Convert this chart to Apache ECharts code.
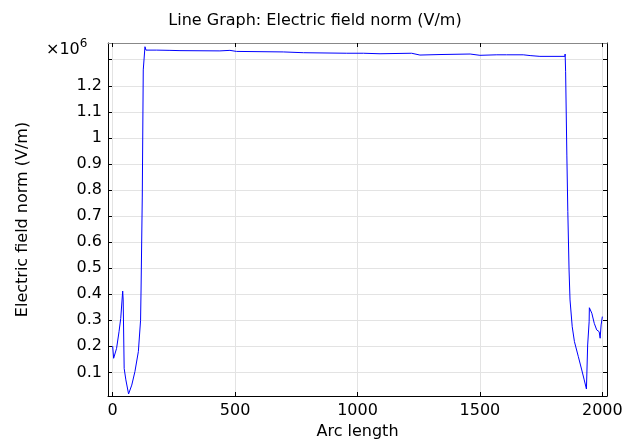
<!DOCTYPE html>
<html>
<head>
<meta charset="utf-8">
<script src="https://cdn.jsdelivr.net/npm/echarts@6/dist/echarts.min.js"></script>
<style>html,body{margin:0;padding:0;background:#fff;}#c{width:630px;height:439px;}</style>
</head>
<body>
<div id="c"></div>
<script>
// Arc length values along the line
const arcLength = [0, 4, 16, 26, 33, 41, 43, 47, 54, 65, 78, 91, 105, 114, 116, 121, 125, 132, 136, 180, 234, 275, 438, 479, 506, 697, 779, 956, 1024, 1092, 1221, 1255, 1337, 1460, 1500, 1569, 1609, 1677, 1705, 1745, 1847, 1848, 1850, 1855, 1859, 1864, 1868, 1877, 1886, 1902, 1916, 1926, 1935, 1940, 1946, 1947, 1957, 1967, 1977, 1987, 1991, 1995, 2000];
// Electric field norm, in units of 10^6 V/m
const fieldNormE6 = [0.201, 0.154, 0.192, 0.256, 0.307, 0.412, 0.378, 0.115, 0.071, 0.017, 0.051, 0.103, 0.180, 0.300, 0.416, 0.773, 1.261, 1.350, 1.337, 1.337, 1.336, 1.335, 1.334, 1.336, 1.332, 1.330, 1.327, 1.325, 1.325, 1.323, 1.325, 1.318, 1.320, 1.322, 1.317, 1.319, 1.319, 1.319, 1.316, 1.313, 1.313, 1.322, 1.254, 0.934, 0.717, 0.493, 0.378, 0.275, 0.218, 0.160, 0.109, 0.071, 0.036, 0.205, 0.294, 0.348, 0.327, 0.288, 0.263, 0.256, 0.231, 0.282, 0.314];
const xTicks = [0, 500, 1000, 1500, 2000];
const yTicks = [0.1, 0.2, 0.3, 0.4, 0.5, 0.6, 0.7, 0.8, 0.9, 1.0, 1.1, 1.2, 1.3];
const yLabels = [0.1, 0.2, 0.3, 0.4, 0.5, 0.6, 0.7, 0.8, 0.9, 1.0, 1.1, 1.2];
const titleText = 'Line Graph: Electric field norm (V/m)';
const xName = 'Arc length';
const yName = 'Electric field norm (V/m)';

const FONT = 'DejaVu Sans';
const chart = echarts.init(document.getElementById('c'), null, {renderer: 'canvas'});
const gridLine = {show: true, lineStyle: {color: '#e3e3e3', width: 1}};
const series = [{
  type: 'line',
  data: arcLength.map((x, i) => [x, fieldNormE6[i]]),
  showSymbol: false,
  symbol: 'none',
  lineStyle: {color: '#0000ff', width: 1},
  animation: false
}];
chart.setOption({
  animation: false,
  backgroundColor: '#fff',
  title: {
    text: titleText, left: 'center', top: 8,
    textStyle: {fontFamily: FONT, fontSize: 16, fontWeight: 'normal', color: '#000'}
  },
  grid: {left: 108, right: 23, top: 43, bottom: 43, containLabel: false, outerBoundsMode: 'none'},
  xAxis: [{
    type: 'value', min: -19, max: 2019,
    name: xName, nameLocation: 'middle', nameGap: 26,
    nameTextStyle: {fontFamily: FONT, fontSize: 16, color: '#000'},
    axisLine: {show: true, onZero: false, lineStyle: {color: '#000', width: 1}},
    axisTick: {show: true, inside: true, length: 4, customValues: xTicks, lineStyle: {color: '#000'}},
    axisLabel: {customValues: xTicks, fontFamily: FONT, fontSize: 16, color: '#000', margin: 7,
      formatter: v => String(v)},
    splitLine: gridLine
  }, {
    type: 'value', min: -19, max: 2019, position: 'top',
    axisLine: {show: true, onZero: false, lineStyle: {color: '#888', width: 1}},
    axisTick: {show: true, inside: true, length: 4, customValues: xTicks, lineStyle: {color: '#000'}},
    axisLabel: {show: false},
    splitLine: {show: false}
  }],
  yAxis: [{
    type: 'value', min: 0.0092, max: 1.3643,
    name: yName, nameLocation: 'middle', nameGap: 77, nameRotate: 90,
    nameTextStyle: {fontFamily: FONT, fontSize: 16, color: '#000'},
    axisLine: {show: true, onZero: false, lineStyle: {color: '#000', width: 1}},
    axisTick: {show: true, inside: true, length: 4, customValues: yTicks, lineStyle: {color: '#000'}},
    axisLabel: {customValues: yLabels, fontFamily: FONT, fontSize: 16, color: '#000', margin: 6,
      formatter: v => String(Math.round(v * 10) / 10)},
    splitLine: gridLine
  }, {
    type: 'value', min: 0.0092, max: 1.3643, position: 'right',
    axisLine: {show: true, onZero: false, lineStyle: {color: '#000', width: 1}},
    axisTick: {show: true, inside: true, length: 4, customValues: yTicks, lineStyle: {color: '#000'}},
    axisLabel: {show: false},
    splitLine: {show: false}
  }],
  graphic: [{
    type: 'text', left: 46, top: 38,
    style: {
      text: '{a|×10}{b|6}',
      rich: {
        a: {fontFamily: FONT, fontSize: 16, fill: '#000', verticalAlign: 'bottom'},
        b: {fontFamily: FONT, fontSize: 12, fill: '#000', verticalAlign: 'top', padding: [0, 0, 8, 0]}
      }
    }
  }],
  series: series
});
</script>
</body>
</html>
